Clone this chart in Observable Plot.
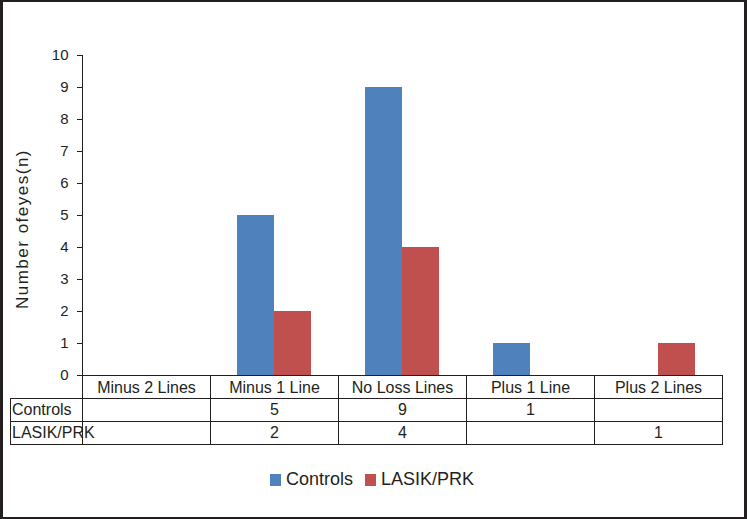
<!DOCTYPE html>
<html>
<head>
<meta charset="utf-8">
<script src="https://cdn.jsdelivr.net/npm/d3@7"></script>
<script src="https://cdn.jsdelivr.net/npm/@observablehq/plot@0.6"></script>
<style>
  html, body { margin: 0; padding: 0; background: #fff; }
  #wrap { position: relative; width: 747px; height: 519px; overflow: hidden; background: #fff;
          font-family: "Liberation Sans", Arial, sans-serif; color: #231f20; }
  #wrap svg { position: absolute; left: 0; top: 0; }
  .cell { position: absolute; box-sizing: border-box; border: 1px solid #231f20; font-size: 16px;
          line-height: 22px; text-align: center; white-space: nowrap; overflow: visible; }
  .cell.label { text-align: left; padding-left: 1px; }
  .frameBorder { position: absolute; left: 0; top: 0; width: 747px; height: 519px; box-sizing: border-box;
          border-style: solid; border-color: #231f20; border-width: 2px 3px 2px 3px; pointer-events: none; }
  .ytitle { position: absolute; font-size: 17px; letter-spacing: 1.5px; white-space: nowrap;
          transform: translate(-50%, -50%) rotate(-90deg); }
  .legend { position: absolute; top: 469px; left: 270px; font-size: 18px; display: flex; align-items: center; }
  .legend .sw { display: inline-block; width: 11px; height: 12px; margin-right: 5px; }
  .legend .item { display: flex; align-items: center; margin-right: 12px; }
</style>
</head>
<body>
<div id="wrap"></div>
<script>
// ---- data ----
const categories = ["Minus 2 Lines", "Minus 1 Line", "No Loss Lines", "Plus 1 Line", "Plus 2 Lines"];
const seriesNames = ["Controls", "LASIK/PRK"];
const controls = [null, 5, 9, 1, null];
const lasik = [null, 2, 4, null, 1];
const yTicks = [0, 1, 2, 3, 4, 5, 6, 7, 8, 9, 10];
const yTitle = "Number ofeyes(n)";
const colors = ["#4F81BD", "#C0504D"];

// ---- layout ----
const W = 747, H = 519;
const mL = 82, mR = 25, mT = 55, mB = 144;
const band = (W - mL - mR) / categories.length;
const barW = 37;
const outer = (band - 2 * barW) / 2;
const ink = "#231f20";

const rows = categories.map((c, i) => ({category: c, controls: controls[i], lasik: lasik[i]}));

const chart = Plot.plot({
  width: W, height: H,
  marginLeft: mL, marginRight: mR, marginTop: mT, marginBottom: mB,
  style: {fontFamily: "Liberation Sans, Arial, sans-serif", color: ink, background: "transparent"},
  x: {type: "band", domain: categories, padding: 0},
  y: {domain: [0, 10]},
  marks: [
    Plot.barY(rows.filter(d => d.controls != null), {x: "category", y: "controls", fill: colors[0], insetLeft: outer, insetRight: outer + barW}),
    Plot.barY(rows.filter(d => d.lasik != null), {x: "category", y: "lasik", fill: colors[1], insetLeft: outer + barW, insetRight: outer}),
    Plot.ruleX([categories[0]], {x: d => d, y1: 0, y2: 10, dx: -band / 2, stroke: ink}),
    Plot.axisY({ticks: yTicks, tickSize: 5, tickPadding: 9, fontSize: 15, label: null, stroke: ink, fill: ink}),
    Plot.axisX({tickSize: 0, tickPadding: 6, fontSize: 16, label: null, fill: ink})
  ]
});

const wrap = document.getElementById("wrap");
wrap.appendChild(chart);

// ---- data table (grid + values) ----
const rowH = 23;
const tableTop = H - mB;
const labelLeft = 10;
const tableRows = [null, {name: seriesNames[0], vals: controls}, {name: seriesNames[1], vals: lasik}];
tableRows.forEach((r, ri) => {
  const top = tableTop + ri * rowH;
  if (r) {
    const lab = document.createElement("div");
    lab.className = "cell label";
    Object.assign(lab.style, {left: labelLeft + "px", top: top + "px", width: (mL - labelLeft + 1) + "px", height: (rowH + 1) + "px"});
    lab.textContent = r.name;
    wrap.appendChild(lab);
  }
  categories.forEach((c, ci) => {
    const cell = document.createElement("div");
    cell.className = "cell";
    Object.assign(cell.style, {left: (mL + ci * band) + "px", top: top + "px", width: (band + 1) + "px", height: (rowH + 1) + "px"});
    if (r && r.vals[ci] != null) cell.textContent = r.vals[ci];
    wrap.appendChild(cell);
  });
});

// ---- y title ----
const yt = document.createElement("div");
yt.className = "ytitle";
yt.textContent = yTitle;
Object.assign(yt.style, {left: "23px", top: "229px"});
wrap.appendChild(yt);

// ---- legend ----
const leg = document.createElement("div");
leg.className = "legend";
seriesNames.forEach((s, i) => {
  const it = document.createElement("div");
  it.className = "item";
  const sw = document.createElement("span");
  sw.className = "sw";
  sw.style.background = colors[i];
  const tx = document.createElement("span");
  tx.textContent = s;
  it.appendChild(sw); it.appendChild(tx);
  leg.appendChild(it);
});
wrap.appendChild(leg);

const fb = document.createElement("div");
fb.className = "frameBorder";
wrap.appendChild(fb);
</script>
</body>
</html>
